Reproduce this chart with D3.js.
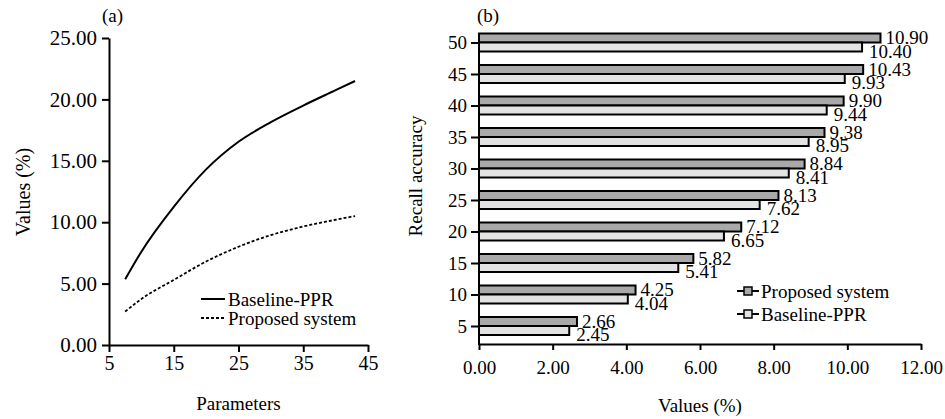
<!DOCTYPE html>
<html>
<head>
<meta charset="utf-8">
<script src="https://cdn.jsdelivr.net/npm/d3@7"></script>
<style>
  body { margin: 0; background: #fff; }
  text { font-family: "Liberation Serif", "Times New Roman", serif; }
</style>
</head>
<body>
<div id="chart"></div>
<script>
// Panel (a): values (%) against parameters
const params = [7.5, 10, 15, 20, 25, 30, 35, 40, 43];
const baselineLine = [5.35, 7.6, 11.25, 14.3, 16.55, 18.15, 19.5, 20.75, 21.5];
const proposedLine = [2.72, 3.75, 5.3, 6.8, 8.0, 8.95, 9.65, 10.2, 10.5];
const xTicksA = [5, 15, 25, 35, 45];
const yTicksA = [0, 5, 10, 15, 20, 25];

// Panel (b): recall accuracy bars
const recallLevels = [5, 10, 15, 20, 25, 30, 35, 40, 45, 50];
const proposedBars = [2.66, 4.25, 5.82, 7.12, 8.13, 8.84, 9.38, 9.90, 10.43, 10.90];
const baselineBars = [2.45, 4.04, 5.41, 6.65, 7.62, 8.41, 8.95, 9.44, 9.93, 10.40];
const xTicksB = [0, 2, 4, 6, 8, 10, 12];

const width = 945;
const height = 419;
const fontSize = 19;
const fmt = d3.format(".2f");

const darkFill = "#a9a9a9";
const lightFill = "#e3e3e3";

const svg = d3.select("#chart")
    .append("svg")
    .attr("width", width)
    .attr("height", height);

// shared axis styling
function styleAxis(g, size) {
    g.attr("font-size", size || fontSize)
        .attr("font-family", "Liberation Serif, Times New Roman, serif");
    g.selectAll("path, line").attr("stroke", "#000").attr("stroke-width", 2);
    g.selectAll("text").attr("fill", "#000");
}

// ---------- Panel (a) ----------
const xA = d3.scaleLinear().domain([5, 45]).range([109, 368]);
const yA = d3.scaleLinear().domain([0, 25]).range([345, 38]);

svg.append("g")
    .attr("transform", "translate(0,345)")
    .call(d3.axisBottom(xA).tickValues(xTicksA).tickSize(7).tickPadding(4).tickSizeOuter(0))
    .call(g => styleAxis(g, 20));

svg.append("g")
    .attr("transform", "translate(109,0)")
    .call(d3.axisLeft(yA).tickValues(yTicksA).tickFormat(fmt).tickSize(7).tickPadding(5).tickSizeOuter(0))
    .call(g => styleAxis(g, 21));

const lineA = d3.line()
    .x((d, i) => xA(params[i]))
    .y(d => yA(d))
    .curve(d3.curveMonotoneX);

svg.append("path")
    .datum(baselineLine)
    .attr("d", lineA)
    .attr("fill", "none")
    .attr("stroke", "#000")
    .attr("stroke-width", 2);

svg.append("path")
    .datum(proposedLine)
    .attr("d", lineA)
    .attr("fill", "none")
    .attr("stroke", "#000")
    .attr("stroke-width", 1.8)
    .attr("stroke-dasharray", "3,2");

// legend (a)
const legendA = [
    { name: "Baseline-PPR", dash: null, y: 299 },
    { name: "Proposed system", dash: "3,2", y: 318 }
];
legendA.forEach(item => {
    svg.append("line")
        .attr("x1", 201).attr("x2", 225)
        .attr("y1", item.y).attr("y2", item.y)
        .attr("stroke", "#000")
        .attr("stroke-width", 2)
        .attr("stroke-dasharray", item.dash);
    svg.append("text")
        .attr("x", 228).attr("y", item.y + 6.5)
        .attr("font-size", fontSize)
        .text(item.name);
});

svg.append("text")
    .attr("x", 102).attr("y", 22)
    .attr("font-size", fontSize)
    .text("(a)");

svg.append("text")
    .attr("x", 238.5).attr("y", 410)
    .attr("text-anchor", "middle")
    .attr("font-size", fontSize)
    .text("Parameters");

svg.append("text")
    .attr("transform", "translate(30,192) rotate(-90)")
    .attr("text-anchor", "middle")
    .attr("font-size", 20)
    .text("Values (%)");

// ---------- Panel (b) ----------
const xB = d3.scaleLinear().domain([0, 12]).range([479, 921]);
const yB = d3.scalePoint().domain(recallLevels).range([326, 42.5]);
const barH = 9;

const groups = svg.append("g")
    .selectAll("g")
    .data(recallLevels)
    .enter()
    .append("g");

// proposed system (dark) sits above the tick, baseline (light) below
groups.append("rect")
    .attr("x", xB(0))
    .attr("y", d => yB(d) - barH)
    .attr("width", (d, i) => xB(proposedBars[i]) - xB(0))
    .attr("height", barH)
    .attr("fill", darkFill)
    .attr("stroke", "#000")
    .attr("stroke-width", 2);

groups.append("rect")
    .attr("x", xB(0))
    .attr("y", d => yB(d))
    .attr("width", (d, i) => xB(baselineBars[i]) - xB(0))
    .attr("height", barH)
    .attr("fill", lightFill)
    .attr("stroke", "#000")
    .attr("stroke-width", 2);

groups.append("text")
    .attr("x", (d, i) => xB(proposedBars[i]) + 5)
    .attr("y", d => yB(d) + 1.5)
    .attr("font-size", fontSize)
    .text((d, i) => fmt(proposedBars[i]));

groups.append("text")
    .attr("x", (d, i) => xB(baselineBars[i]) + 7)
    .attr("y", d => yB(d) + 15)
    .attr("font-size", fontSize)
    .text((d, i) => fmt(baselineBars[i]));

svg.append("g")
    .attr("transform", "translate(0,344)")
    .call(d3.axisBottom(xB).tickValues(xTicksB).tickFormat(fmt).tickSize(6).tickPadding(11).tickSizeOuter(0))
    .call(g => styleAxis(g));

svg.append("g")
    .attr("transform", "translate(479,0)")
    .call(d3.axisLeft(yB).tickSize(8).tickPadding(4))
    .call(g => g.select(".domain").remove())
    .call(g => styleAxis(g));

svg.append("line")
    .attr("x1", 479).attr("x2", 479)
    .attr("y1", 34).attr("y2", 345)
    .attr("stroke", "#000")
    .attr("stroke-width", 2);

// legend (b)
const legendB = [
    { name: "Proposed system", fill: darkFill, y: 291 },
    { name: "Baseline-PPR", fill: lightFill, y: 314 }
];
legendB.forEach(item => {
    svg.append("line")
        .attr("x1", 737).attr("x2", 759)
        .attr("y1", item.y).attr("y2", item.y)
        .attr("stroke", "#000")
        .attr("stroke-width", 2);
    svg.append("rect")
        .attr("x", 744).attr("y", item.y - 4)
        .attr("width", 8).attr("height", 8)
        .attr("fill", item.fill)
        .attr("stroke", "#000")
        .attr("stroke-width", 1.5);
    svg.append("text")
        .attr("x", 761).attr("y", item.y + 6.5)
        .attr("font-size", fontSize)
        .text(item.name);
});

svg.append("text")
    .attr("x", 477).attr("y", 22)
    .attr("font-size", fontSize)
    .text("(b)");

svg.append("text")
    .attr("x", 700).attr("y", 412)
    .attr("text-anchor", "middle")
    .attr("font-size", fontSize)
    .text("Values (%)");

svg.append("text")
    .attr("transform", "translate(422,176) rotate(-90)")
    .attr("text-anchor", "middle")
    .attr("font-size", fontSize)
    .text("Recall accuracy");
</script>
</body>
</html>
